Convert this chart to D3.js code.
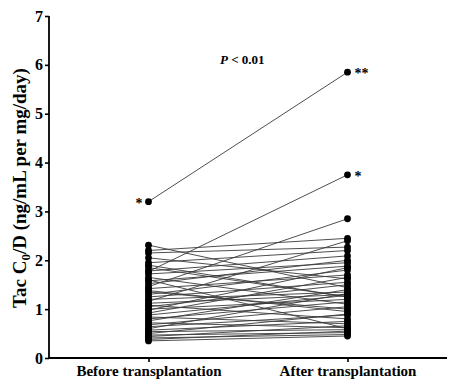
<!DOCTYPE html>
<html>
<head>
<meta charset="utf-8">
<script src="https://cdn.jsdelivr.net/npm/d3@7"></script>
<style>
  html, body { margin: 0; padding: 0; background: #fff; }
  svg { display: block; }
  text { font-family: "Liberation Serif", "Times New Roman", serif; font-weight: bold; fill: #000; }
</style>
</head>
<body>
<svg id="chart" width="449" height="380"></svg>
<script>
// Paired Tac C0/D values per patient (ng/mL per mg/day)
const groups = ["Before transplantation", "After transplantation"];
const beforeValues = [3.20, 2.31, 2.20, 2.15, 2.05, 1.95, 1.85, 1.78, 1.77, 1.72,
                      1.65, 1.58, 1.52, 1.46, 1.42, 1.38, 1.30, 1.25, 1.20, 1.16,
                      1.12, 1.08, 1.05, 1.00, 0.92, 0.88, 0.84, 0.80, 0.76, 0.72,
                      0.68, 0.64, 0.60, 0.57, 0.54, 0.50, 0.47, 0.44, 0.41, 0.38,
                      0.35, 1.60, 1.35, 0.98, 1.90];
const afterValues  = [5.85, 1.44, 2.45, 2.27, 1.62, 2.20, 1.25, 2.09, 3.75, 1.95,
                      1.10, 1.88, 2.00, 2.85, 1.70, 0.95, 1.80, 1.55, 1.35, 2.40,
                      1.30, 0.80, 1.50, 1.20, 1.65, 1.28, 0.70, 1.15, 1.40, 0.62,
                      1.05, 0.88, 1.32, 0.75, 0.58, 0.90, 0.52, 0.66, 0.48, 0.55,
                      0.45, 0.60, 1.00, 1.85, 1.25];
const yTicks = [0, 1, 2, 3, 4, 5, 6, 7];
// Significance marks: [group index, value, text, side]
const marks = [[0, 3.20, "*", "left"], [1, 5.85, "**", "right"], [1, 3.75, "*", "right"]];

const svg = d3.select("#chart");
const plotLeft = 49, plotRight = 447, plotTop = 16, plotBottom = 358;

const x = d3.scalePoint().domain(groups).range([plotLeft, plotRight]).padding(0.5);
const y = d3.scaleLinear().domain([0, 7]).range([plotBottom, plotTop]);

const pairs = beforeValues.map((b, i) => [b, afterValues[i]]);

// connecting lines
svg.append("g").selectAll("line").data(pairs).join("line")
  .attr("x1", x(groups[0])).attr("x2", x(groups[1]))
  .attr("y1", d => y(d[0])).attr("y2", d => y(d[1]))
  .attr("stroke", "#3a3a3a").attr("stroke-width", 0.9);

// dots
const dots = svg.append("g");
dots.selectAll("circle.b").data(beforeValues).join("circle").attr("class", "b")
  .attr("cx", x(groups[0])).attr("cy", d => y(d)).attr("r", 3.4).attr("fill", "#000");
dots.selectAll("circle.a").data(afterValues).join("circle").attr("class", "a")
  .attr("cx", x(groups[1])).attr("cy", d => y(d)).attr("r", 3.4).attr("fill", "#000");

// axes
const yAxis = svg.append("g").attr("transform", `translate(${plotLeft},0)`)
  .call(d3.axisLeft(y).tickValues(yTicks).tickFormat(d3.format("d")).tickSize(4).tickPadding(2));
const xAxis = svg.append("g").attr("transform", `translate(0,${plotBottom})`)
  .call(d3.axisBottom(x).tickSize(4).tickPadding(3));
[yAxis, xAxis].forEach(g => {
  g.select(".domain").attr("stroke", "#000").attr("stroke-width", 1.8);
  g.selectAll(".tick line").attr("stroke", "#000").attr("stroke-width", 1.6);
  g.selectAll("text").attr("font-family", "Liberation Serif, serif").attr("font-weight", "bold").attr("fill", "#000");
});
yAxis.select(".domain").attr("d", `M0,${plotTop}V${plotBottom}`);
xAxis.select(".domain").attr("d", `M${plotLeft},0H${plotRight}`);
yAxis.selectAll("text").attr("font-size", 16);
xAxis.selectAll("text").attr("font-size", 15).attr("dy", "0.7em");

// y axis title with subscript
const yt = svg.append("text")
  .attr("transform", `translate(26,${(plotTop + plotBottom) / 2 + 1}) rotate(-90)`)
  .attr("text-anchor", "middle").attr("font-size", 19);
yt.append("tspan").text("Tac C");
yt.append("tspan").text("0").attr("font-size", 13).attr("dy", 4);
yt.append("tspan").text("/D (ng/mL per mg/day)").attr("dy", -4);

// p-value annotation
const pt = svg.append("text").attr("x", 220).attr("y", 64).attr("font-size", 13);
pt.append("tspan").text("P").attr("font-style", "italic");
pt.append("tspan").text(" < 0.01");

// asterisks
svg.append("g").selectAll("text").data(marks).join("text")
  .attr("x", d => x(groups[d[0]]) + (d[3] === "left" ? -6 : 7))
  .attr("y", d => y(d[1]) + 6)
  .attr("text-anchor", d => d[3] === "left" ? "end" : "start")
  .attr("font-size", 14)
  .attr("font-family", "DejaVu Sans, sans-serif")
  .attr("font-weight", "normal")
  .text(d => d[2]);
</script>
</body>
</html>
